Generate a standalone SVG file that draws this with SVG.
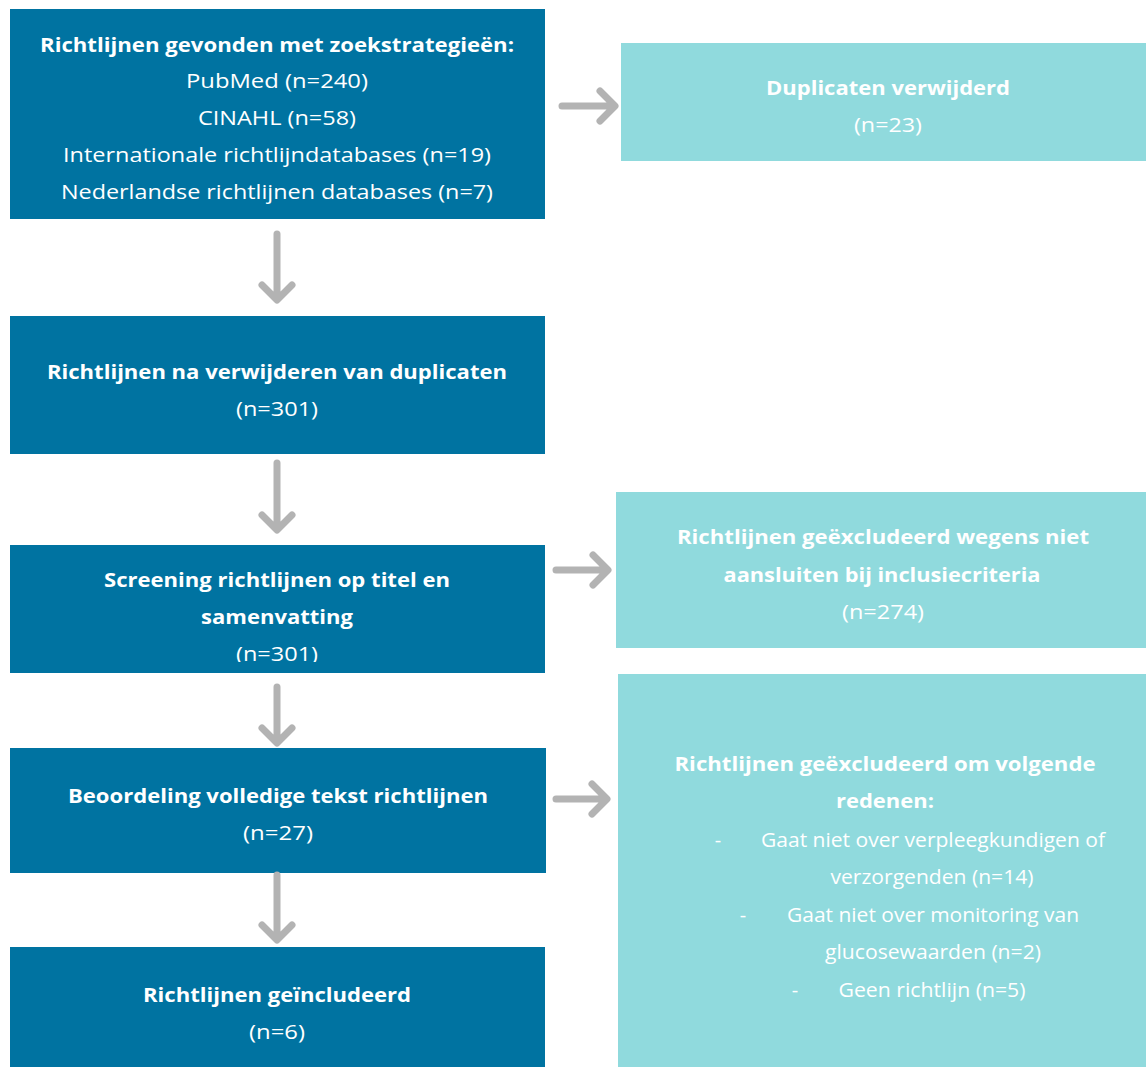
<svg xmlns="http://www.w3.org/2000/svg" width="1146" height="1068" viewBox="0 0 1146 1068">
<defs>
<style>
.dark{fill:#0073A1}
.light{fill:#90DADD}
text{font-family:"Open Sans","Noto Sans","DejaVu Sans",sans-serif;fill:#FFFFFF;text-anchor:middle;font-size:20px}
.b{font-weight:bold}
.arr{stroke:#B3B3B3;stroke-width:7;fill:none;stroke-linecap:round;stroke-linejoin:round}
</style>
<clipPath id="clip4"><rect x="10" y="545" width="535" height="117"/></clipPath>
</defs>
<rect width="1146" height="1068" fill="#FFFFFF"/>
<g id="node-found">
<rect class="dark" x="10" y="9" width="535" height="210"/>
<text class="b" x="277" y="52" textLength="474" lengthAdjust="spacingAndGlyphs">Richtlijnen gevonden met zoekstrategieën:</text>
<text x="277" y="88" textLength="182" lengthAdjust="spacingAndGlyphs">PubMed (n=240)</text>
<text x="277" y="125" textLength="158" lengthAdjust="spacingAndGlyphs">CINAHL (n=58)</text>
<text x="277" y="162" textLength="428" lengthAdjust="spacingAndGlyphs">Internationale richtlijndatabases (n=19)</text>
<text x="277" y="199" textLength="432" lengthAdjust="spacingAndGlyphs">Nederlandse richtlijnen databases (n=7)</text>
</g>
<g id="node-duplicates">
<rect class="light" x="621" y="43" width="525" height="118"/>
<text class="b" x="888" y="95" textLength="244" lengthAdjust="spacingAndGlyphs">Duplicaten verwijderd</text>
<text x="888" y="132" textLength="68" lengthAdjust="spacingAndGlyphs">(n=23)</text>
</g>
<g id="node-after-dup">
<rect class="dark" x="10" y="316" width="535" height="138"/>
<text class="b" x="277" y="379" textLength="460" lengthAdjust="spacingAndGlyphs">Richtlijnen na verwijderen van duplicaten</text>
<text x="277" y="416" textLength="82" lengthAdjust="spacingAndGlyphs">(n=301)</text>
</g>
<g id="node-screening">
<rect class="dark" x="10" y="545" width="535" height="128"/>
<text class="b" x="277" y="587" textLength="346" lengthAdjust="spacingAndGlyphs">Screening richtlijnen op titel en</text>
<text class="b" x="277" y="624" textLength="152" lengthAdjust="spacingAndGlyphs">samenvatting</text>
<text x="277" y="661" clip-path="url(#clip4)" textLength="82" lengthAdjust="spacingAndGlyphs">(n=301)</text>
</g>
<g id="node-excl1">
<rect class="light" x="616" y="492" width="530" height="156"/>
<text class="b" x="883" y="544" textLength="412" lengthAdjust="spacingAndGlyphs">Richtlijnen geëxcludeerd wegens niet</text>
<text class="b" x="882" y="582" textLength="317" lengthAdjust="spacingAndGlyphs">aansluiten bij inclusiecriteria</text>
<text x="883" y="619" textLength="82" lengthAdjust="spacingAndGlyphs">(n=274)</text>
</g>
<g id="node-fulltext">
<rect class="dark" x="10" y="748" width="536" height="125"/>
<text class="b" x="278" y="803" textLength="420" lengthAdjust="spacingAndGlyphs">Beoordeling volledige tekst richtlijnen</text>
<text x="278" y="840" textLength="70" lengthAdjust="spacingAndGlyphs">(n=27)</text>
</g>
<g id="node-excl2">
<rect class="light" x="618" y="674" width="528" height="393"/>
<text class="b" x="885" y="771" textLength="421" lengthAdjust="spacingAndGlyphs">Richtlijnen geëxcludeerd om volgende</text>
<text class="b" x="885" y="808" textLength="98" lengthAdjust="spacingAndGlyphs">redenen:</text>
<text x="718" y="847">-</text>
<text x="933" y="847" textLength="344" lengthAdjust="spacingAndGlyphs">Gaat niet over verpleegkundigen of</text>
<text x="932" y="884" textLength="203" lengthAdjust="spacingAndGlyphs">verzorgenden (n=14)</text>
<text x="743" y="922">-</text>
<text x="933" y="922" textLength="292" lengthAdjust="spacingAndGlyphs">Gaat niet over monitoring van</text>
<text x="933" y="959" textLength="216" lengthAdjust="spacingAndGlyphs">glucosewaarden (n=2)</text>
<text x="795" y="997">-</text>
<text x="932" y="997" textLength="187" lengthAdjust="spacingAndGlyphs">Geen richtlijn (n=5)</text>
</g>
<g id="node-included">
<rect class="dark" x="10" y="947" width="535" height="120"/>
<text class="b" x="277" y="1002" textLength="268" lengthAdjust="spacingAndGlyphs">Richtlijnen geïncludeerd</text>
<text x="277" y="1039" textLength="56" lengthAdjust="spacingAndGlyphs">(n=6)</text>
</g>
<g id="connectors">
<path class="arr" d="M277 234 V299 M262 285 L277 300 L292 285"/>
<path class="arr" d="M277 463 V529 M262 515 L277 530 L292 515"/>
<path class="arr" d="M277 687 V742 M262 728 L277 743 L292 728"/>
<path class="arr" d="M277 875 V939 M262 925 L277 940 L292 925"/>
<path class="arr" d="M562 106 H614 M600 91 L615 106 L600 121"/>
<path class="arr" d="M556 570 H607 M593 555 L608 570 L593 585"/>
<path class="arr" d="M556 799 H606 M592 784 L607 799 L592 814"/>
</g>
</svg>
